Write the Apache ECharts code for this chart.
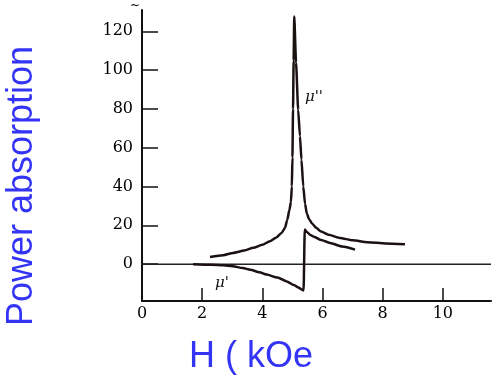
<!DOCTYPE html>
<html lang="en">
<head>
    <meta charset="UTF-8">
    <title>Power absorption</title>
    <style>
        html, body { margin: 0; padding: 0; background: #fff; }
        #chart { width: 500px; height: 379px; }
    </style>
</head>
<body>
    <div id="chart"></div>

    <script src="https://cdn.jsdelivr.net/npm/echarts@6/dist/echarts.min.js"></script>
    <script>
        // mu'' curve (H in kOe, value)
        var muDoubleH = [2.26, 2.7, 3.03, 3.4, 3.70, 4.0, 4.25, 4.45, 4.64, 4.75, 4.83, 4.9, 4.95, 4.98, 5.0, 5.02, 5.04, 5.06,
                         5.12, 5.19, 5.25, 5.30, 5.36, 5.42, 5.48, 5.56, 5.66, 5.8, 5.95, 6.2, 6.58, 7.0, 7.5, 8.1, 8.74];
        var muDoubleV = [3.7, 4.6, 5.8, 7.0, 8.4, 10.0, 11.8, 13.6, 16.1, 18.6, 22.9, 28, 32, 40, 55, 80, 105, 127.7,
                         104, 79.6, 66, 53.9, 40, 31, 26, 23, 20.8, 18.6, 16.8, 15.1, 13.5, 12.3, 11.3, 10.7, 10.3];

        // mu' curve
        var muPrimeH = [1.7, 2.3, 2.7, 3.02, 3.35, 3.6, 3.9, 4.14, 4.5, 4.81, 5.05, 5.2, 5.31, 5.37,
                        5.41, 5.48, 5.58, 5.69, 5.95, 6.25, 6.65, 7.08];
        var muPrimeV = [0, -0.3, -0.6, -1.1, -2.0, -2.9, -4.2, -5.4, -6.9, -8.9, -10.8, -12.1, -13.1, -13.6,
                        17.8, 16.6, 15.2, 14.3, 12.5, 10.9, 9.1, 7.5];

        var xTicks = [0, 2, 4, 6, 8, 10];
        var yTicks = [0, 20, 40, 60, 80, 100, 120];
        var zeroLine = [[0, 0], [11.6, 0]];

        function pairs(xs, ys) {
            var out = [];
            for (let i = 0; i < xs.length; i++) {
                out.push([xs[i], ys[i]]);
            }
            return out;
        }

        var myChart = echarts.init(document.getElementById('chart'));
        var blue = '#3434f6';
        var ink = '#1a1110';
        var option = {
            animation: false,
            grid: { left: 142, right: 9, top: 10, bottom: 78 },
            xAxis: {
                type: 'value',
                min: 0,
                max: 11.6,
                axisLine: { onZero: false, lineStyle: { color: '#111', width: 2 } },
                axisTick: { customValues: [2, 4, 6, 8, 10], inside: true, length: 13,
                            lineStyle: { color: '#111', width: 1.5 } },
                axisLabel: { customValues: xTicks, color: '#000', fontFamily: 'DejaVu Serif',
                             fontSize: 16, margin: 5 },
                splitLine: { show: false }
            },
            yAxis: {
                type: 'value',
                min: -19,
                max: 131,
                axisLine: { show: true, onZero: false, lineStyle: { color: '#111', width: 2 } },
                axisTick: { show: true, customValues: yTicks, inside: true, length: 16,
                            lineStyle: { color: '#111', width: 1.5 } },
                axisLabel: { customValues: yTicks, color: '#000', fontFamily: 'DejaVu Serif',
                             fontSize: 16, margin: 9 },
                splitLine: { show: false }
            },
            series: [
                {
                    type: 'line',
                    data: zeroLine,
                    showSymbol: false,
                    lineStyle: { color: '#222', width: 1.5 }
                },
                {
                    name: "mu''",
                    type: 'line',
                    data: pairs(muDoubleH, muDoubleV),
                    showSymbol: false,
                    smooth: 0.2,
                    smoothMonotone: 'x',
                    lineStyle: { color: ink, width: 2.5 }
                },
                {
                    name: "mu'",
                    type: 'line',
                    data: pairs(muPrimeH, muPrimeV),
                    showSymbol: false,
                    smooth: 0.25,
                    smoothMonotone: 'x',
                    lineStyle: { color: ink, width: 2.5 }
                }
            ],
            graphic: [
                {
                    type: 'text',
                    x: 22, y: 186,
                    rotation: Math.PI / 2,
                    style: { text: 'Power absorption', fill: blue, font: '36px "Liberation Sans"',
                             textAlign: 'center', textVerticalAlign: 'middle' }
                },
                {
                    type: 'text',
                    x: 251, y: 357,
                    style: { text: 'H ( kOe', fill: blue, font: '36px "Liberation Sans"',
                             textAlign: 'center', textVerticalAlign: 'middle' }
                },
                {
                    type: 'text',
                    x: 305, y: 97,
                    style: { text: "\u03bc''", fill: '#111', font: 'italic 15px "DejaVu Serif"',
                             textAlign: 'left', textVerticalAlign: 'middle' }
                },
                {
                    type: 'text',
                    x: 215, y: 283,
                    style: { text: "\u03bc'", fill: '#111', font: 'italic 15px "DejaVu Serif"',
                             textAlign: 'left', textVerticalAlign: 'middle' }
                },
                {
                    type: 'text',
                    x: 130, y: 0,
                    style: { text: '~', fill: '#111', font: '12px "DejaVu Serif"' }
                }
            ]
        };
        myChart.setOption(option);
    </script>
</body>
</html>
